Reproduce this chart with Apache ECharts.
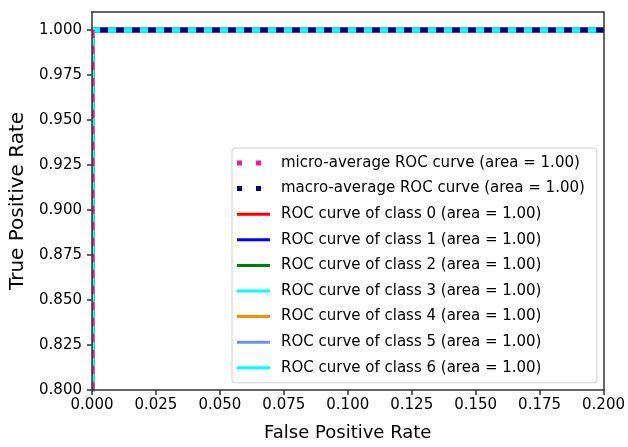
<!DOCTYPE html>
<html>
<head>
<meta charset="utf-8">
<script src="https://cdn.jsdelivr.net/npm/echarts@6/dist/echarts.min.js"></script>
<style>
  html, body { margin: 0; padding: 0; background: #fff; }
  #chart { width: 628px; height: 447px; }
</style>
</head>
<body>
<div id="chart"></div>
<script>
// ROC curves: false positive rate vs true positive rate
const seriesNames = [
  'micro-average ROC curve (area = 1.00)',
  'macro-average ROC curve (area = 1.00)',
  'ROC curve of class 0 (area = 1.00)',
  'ROC curve of class 1 (area = 1.00)',
  'ROC curve of class 2 (area = 1.00)',
  'ROC curve of class 3 (area = 1.00)',
  'ROC curve of class 4 (area = 1.00)',
  'ROC curve of class 5 (area = 1.00)',
  'ROC curve of class 6 (area = 1.00)'
];
const seriesColors = ['#ff1493', '#000080', '#ff0000', '#0000ff', '#008000', '#00ffff', '#ff8c00', '#6495ed', '#00ffff'];
const dottedSeries = [true, true, false, false, false, false, false, false, false];

// every curve: (fpr, tpr) points
const fprMicro = [0, 0, 1];
const tprMicro = [0, 1, 1];
const fprMacro = [0, 1];
const tprMacro = [1, 1];
const fprClass = [
  [0, 0, 1], [0, 0, 1], [0, 0, 1], [0, 0, 1], [0, 0, 1], [0, 0, 1], [0, 0, 1]
];
const tprClass = [
  [0, 1, 1], [0, 1, 1], [0, 1, 1], [0, 1, 1], [0, 1, 1], [0, 1, 1], [0, 1, 1]
];

const xTicks = [0, 0.025, 0.05, 0.075, 0.1, 0.125, 0.15, 0.175, 0.2];
const yTicks = [0.8, 0.825, 0.85, 0.875, 0.9, 0.925, 0.95, 0.975, 1.0];

const fprAll = [fprMicro, fprMacro].concat(fprClass);
const tprAll = [tprMicro, tprMacro].concat(tprClass);

const FONT = 'DejaVu Sans';
const AXIS_COLOR = '#333';
// plot box in pixels
const G = { left: 92, top: 12, right: 24, bottom: 55, W: 628, H: 447 };
const gx0 = G.left, gy0 = G.top, gx1 = G.W - G.right, gy1 = G.H - G.bottom;

const dotIcon = 'path://M0,0h5v5h-5zM19,0h5v5h-5zM33,0v0';
const lineIcon = 'path://M0,1h33v3h-33zM0,0v0M0,5v0';
const DASH = [8, 8];

const series = seriesNames.map((name, i) => ({
  name: name,
  type: 'line',
  data: fprAll[i].map((x, k) => [x, tprAll[i][k]]),
  symbol: 'none',
  clip: true,
  animation: false,
  z: dottedSeries[i] ? 5 : 3,
  itemStyle: { color: seriesColors[i] },
  lineStyle: dottedSeries[i]
    ? { color: seriesColors[i], width: 5, type: DASH, cap: 'butt' }
    : { color: seriesColors[i], width: 5 }
}));

// white strips just outside the plot box keep the curves inside it
const pad = 6;
const masks = [
  { x: gx0 - pad, y: gy0 - pad, width: pad, height: gy1 - gy0 + 2 * pad },
  { x: gx1, y: gy0 - pad, width: pad, height: gy1 - gy0 + 2 * pad },
  { x: gx0 - pad, y: gy0 - pad, width: gx1 - gx0 + 2 * pad, height: pad },
  { x: gx0 - pad, y: gy1, width: gx1 - gx0 + 2 * pad, height: pad }
].map(r => ({
  type: 'rect', z: 8, silent: true,
  shape: r, style: { fill: '#fff' }
}));

const lineAxis = (extra) => Object.assign({
  type: 'value',
  z: 10,
  axisLine: { show: true, onZero: false, lineStyle: { color: AXIS_COLOR, width: 1.5 } },
  splitLine: { show: false }
}, extra);

const chart = echarts.init(document.getElementById('chart'), null, { renderer: 'canvas' });
chart.setOption({
  backgroundColor: '#ffffff',
  animation: false,
  textStyle: { fontFamily: FONT },
  grid: { left: G.left, right: G.right, top: G.top, bottom: G.bottom, show: false },
  graphic: masks,
  legend: {
    orient: 'vertical',
    left: 232, top: 148,
    padding: [7, 12, 7, 5],
    itemWidth: 33, itemHeight: 5,
    itemGap: 9.6,
    z: 12,
    backgroundColor: '#fff',
    borderColor: '#d0d0d0', borderWidth: 1, borderRadius: 3,
    textStyle: { fontFamily: FONT, fontSize: 15, color: '#000', lineHeight: 16, padding: [0, 0, 0, 6] },
    data: seriesNames.map((n, i) => ({
      name: n,
      icon: dottedSeries[i] ? dotIcon : lineIcon
    })),
    selectedMode: false
  },
  xAxis: [
    lineAxis({
      min: 0, max: 0.2, interval: 0.025,
      position: 'bottom',
      name: 'False Positive Rate',
      nameLocation: 'middle', nameGap: 34,
      nameTextStyle: { fontFamily: FONT, fontSize: 18, color: '#000' },
      axisTick: { show: true, inside: false, length: 5, lineStyle: { color: AXIS_COLOR, width: 1.5 }, customValues: xTicks },
      axisLabel: { fontFamily: FONT, fontSize: 15, color: '#000', margin: 8, customValues: xTicks,
        formatter: v => v.toFixed(3) }
    }),
    lineAxis({
      min: 0, max: 0.2, position: 'top',
      axisTick: { show: false }, axisLabel: { show: false }
    })
  ],
  yAxis: [
    lineAxis({
      min: 0.8, max: 1.01,
      position: 'left',
      name: 'True Positive Rate',
      nameLocation: 'middle', nameGap: 63,
      nameTextStyle: { fontFamily: FONT, fontSize: 20, color: '#000' },
      axisTick: { show: true, inside: false, length: 5, lineStyle: { color: AXIS_COLOR, width: 1.5 }, customValues: yTicks },
      axisLabel: { fontFamily: FONT, fontSize: 15, color: '#000', margin: 10, customValues: yTicks,
        formatter: v => v.toFixed(3) }
    }),
    lineAxis({
      min: 0.8, max: 1.01, position: 'right',
      axisTick: { show: false }, axisLabel: { show: false }
    })
  ],
  series: series
});

// start the macro-average dash pattern in step with the micro-average one,
// which reaches the top edge after running up the full vertical leg
const p0 = chart.convertToPixel({ gridIndex: 0 }, [0, 0]);
const p1 = chart.convertToPixel({ gridIndex: 0 }, [0, 1]);
const legLen = Math.abs(p0[1] - p1[1]);
const period = DASH[0] + DASH[1];
chart.setOption({
  series: [{}, { lineStyle: { dashOffset: legLen % period } }]
});
</script>
</body>
</html>
